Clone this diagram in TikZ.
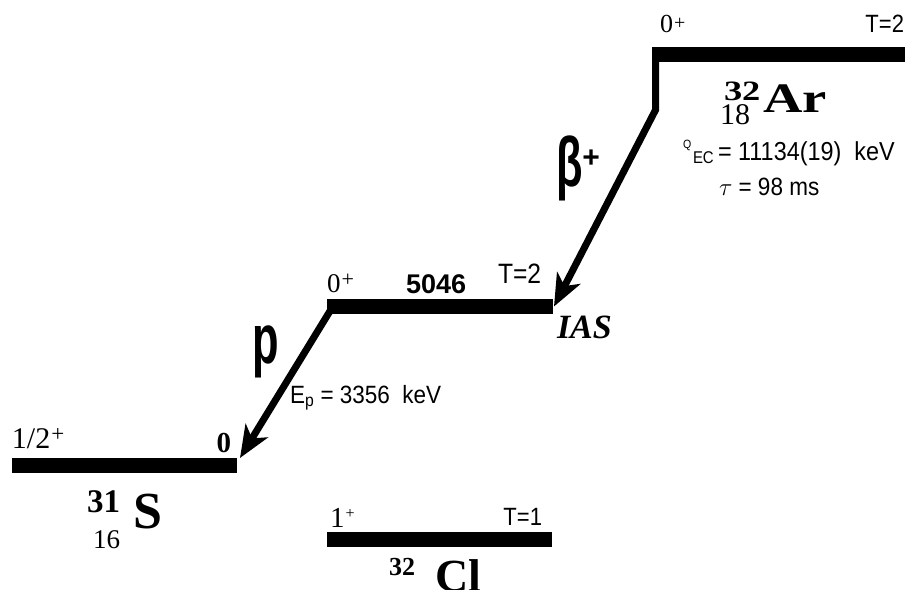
\documentclass[tikz,border=0pt]{standalone}
\usepackage{fontspec}
\setmainfont{Liberation Serif}
\setsansfont{Liberation Sans}
\newfontfamily\csans[FakeStretch=0.88]{Liberation Sans}
\newfontfamily\vsans[FakeStretch=0.9]{Liberation Sans}
\newfontfamily\narrowsans[FakeStretch=0.62]{Liberation Sans}
\newfontfamily\wideserif[FakeStretch=1.3]{Liberation Serif}
\usetikzlibrary{arrows.meta}
\newcommand{\fs}[1]{\fontsize{#1}{#1}\selectfont}
\newcommand{\spinplus}[2]{\kern1pt\raisebox{#2}{\fs{#1}+}}
\begin{document}
\begin{tikzpicture}[x=1pt,y=-1pt,
  level/.style={line width=15pt, line cap=butt},
  trans/.style={line width=7pt, line join=miter, -{Stealth[length=32pt,width=26pt,inset=9pt]}},
  lbl/.style={inner sep=0pt, outer sep=0pt}]
\useasboundingbox (0,0) rectangle (912,589);
% level coordinates
\coordinate (arL) at (652,54.5);
\coordinate (arR) at (905,54.5);
\coordinate (arTop) at (655.5,54.5);
\coordinate (arKnee) at (655.5,110);
\coordinate (iasL) at (327,306.5);
\coordinate (iasR) at (553,306.5);
\coordinate (betaEnd) at (554,306.5);
\coordinate (pStart) at (330,311);
\coordinate (sL) at (12,465);
\coordinate (sR) at (237,465);
\coordinate (pEnd) at (240,458);
\coordinate (clL) at (327,539.5);
\coordinate (clR) at (552,539.5);
% levels
\draw[level] (arL) -- (arR);
\draw[level] (iasL) -- (iasR);
\draw[level] (sL) -- (sR);
\draw[level] (clL) -- (clR);
% transitions
\draw[trans] (arTop) -- (arKnee) -- (betaEnd);
\draw[trans] (pStart) -- (pEnd);
% 32Ar labels
\node[lbl, anchor=base west] (arspin) at (660,32) {\fs{26}0\spinplus{20}{2.5pt}};
\node[lbl, anchor=base east] (arT) at (904,32) {\csans\fs{25}T=2};
\node[lbl, anchor=base west] (arA) at (724,100) {\wideserif\fs{28}\bfseries 32};
\node[lbl, anchor=base west] (arZ) at (720,124) {\fs{30}18};
\node[lbl, anchor=base west] (arSym) at (763,112) {\wideserif\fs{42}\bfseries Ar};
\node[lbl, anchor=base west] (qecQ) at (683,148) {\csans\fs{12}Q};
\node[lbl, anchor=base west] (qecEC) at (693,163) {\csans\fs{17}EC};
\node[lbl, anchor=base west] (qec) at (718,160) {\vsans\fs{26}= 11134(19)\enspace keV};
\node[lbl, anchor=base west] (tau) at (719,195) {\vsans\fs{25}$\tau$ = 98 ms};
\node[lbl, anchor=base west] (beta) at (556,186) {\narrowsans\fs{70}\bfseries β\raisebox{0.27em}{\sffamily\fs{30}+}};
% IAS labels
\node[lbl, anchor=base west] (iasspin) at (327,292) {\fs{27}0\spinplus{22}{6pt}};
\node[lbl, anchor=base west] (iasE) at (406,293) {\sffamily\fs{27}\bfseries 5046};
\node[lbl, anchor=base west] (iasT) at (498,283) {\csans\fs{28}T=2};
\node[lbl, anchor=base west] (ias) at (557,338) {\fs{34}\bfseries\itshape IAS};
\node[lbl, anchor=base west] (p) at (252,363) {\narrowsans\fs{70}\bfseries p};
\node[lbl, anchor=base west] (ep) at (290,403) {\vsans\fs{25}E\textsubscript{p} = 3356\enspace keV};
% 31S labels
\node[lbl, anchor=base west] (sspin) at (12,448) {\fs{30}1/2\spinplus{23}{7pt}};
\node[lbl, anchor=base east] (sE) at (231,452) {\fs{29}\bfseries 0};
\node[lbl, anchor=base west] (sA) at (87,512) {\fs{33}\bfseries 31};
\node[lbl, anchor=base west] (sZ) at (93,548) {\fs{27}16};
\node[lbl, anchor=base west] (sSym) at (133,528) {\fs{52}\bfseries S};
% 32Cl labels
\node[lbl, anchor=base west] (clspin) at (330,527) {\fs{29}1\spinplus{16}{9pt}};
\node[lbl, anchor=base east] (clT) at (542,525) {\csans\fs{25}T=1};
\node[lbl, anchor=base west] (clA) at (389,575) {\fs{26}\bfseries 32};
\node[lbl, anchor=base west] (clSym) at (435,591) {\fs{46}\bfseries Cl};
\end{tikzpicture}
\end{document}
